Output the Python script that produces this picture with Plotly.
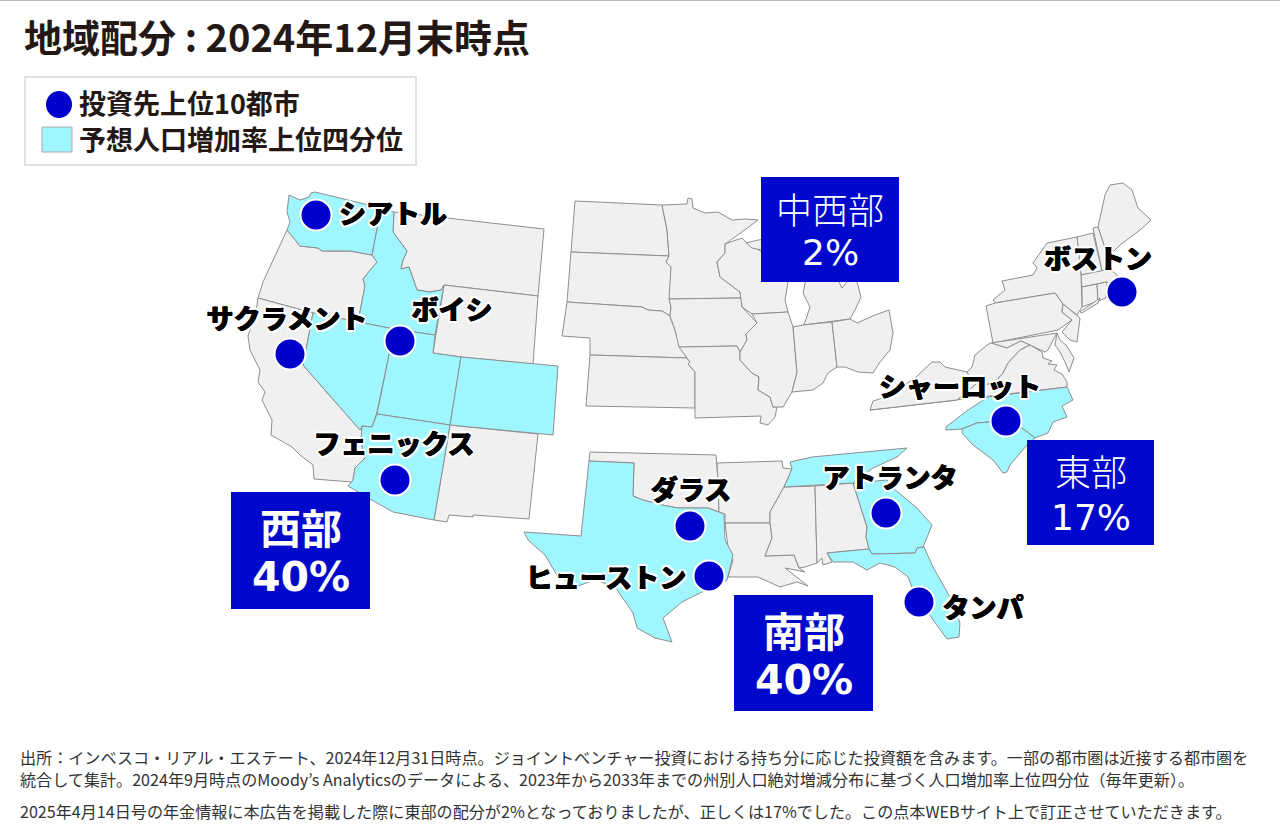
import plotly.graph_objects as go

# outlines, in page pixels (there is no topojson offline)
WA = [(289,195),(300,200),(309,197),(311,193),(315,192),(381,208),(372,255),(350,251),(322,251),(318,248),(300,246),(293,237),(287,230),(290,222),(287,212)]
OR = [(287,230),(293,237),(300,246),(318,248),(322,251),(350,251),(372,255),(377,262),(363,279),(365,286),(358,322),(313,313),(258,298),(263,282)]
CA = [(258,298),(313,313),(303,365),(360,430),(362,426),(361,442),(365,458),(355,468),(353,480),(352,482),(314,479),(313,465),(300,455),(292,447),(271,435),(272,420),(262,400),(265,392),(258,382),(260,370),(250,350),(248,336),(256,312)]
NV = [(313,313),(358,322),(394,329),(389,355),(377,412),(372,427),(362,426),(360,430),(303,365)]
ID = [(381,209),(394,212),(393,232),(407,251),(403,260),(401,269),(409,267),(417,290),(430,292),(441,290),(444,285),(435,335),(394,329),(358,322),(365,286),(363,279),(377,262),(372,255)]
MT = [(394,212),(447,218),(544,229),(538,296),(444,285),(441,290),(430,292),(417,290),(409,267),(401,269),(403,260),(407,251),(393,232)]
WY = [(444,285),(538,296),(533,364),(461,357),(433,353)]
UT = [(394,329),(435,335),(433,353),(461,357),(450,425),(377,414),(389,355)]
CO = [(461,357),(558,366),(553,435),(450,425)]
AZ = [(377,414),(450,425),(434,520),(393,512),(370,499),(348,486),(353,480),(355,468),(365,458),(361,442),(362,426),(372,427)]
NM = [(450,425),(538,434),(529,519),(473,515),(473,517),(449,515),(447,522),(434,520)]

ND = [(575,201),(662,205),(667,230),(669,256),(571,252)]
SD = [(571,252),(669,256),(666,262),(671,267),(671,307),(670,316),(662,311),(648,310),(642,307),(567,302)]
NE = [(567,302),(642,307),(648,310),(662,311),(670,316),(675,330),(680,347),(687,358),(590,355),(590,338),(562,336)]
KS = [(590,355),(687,358),(690,362),(688,364),(695,372),(695,408),(586,406)]
MN = [(662,205),(687,204),(688,198),(692,199),(693,208),(705,213),(718,212),(732,220),(745,219),(758,220),(742,232),(725,244),(725,253),(717,262),(720,277),(740,292),(741,298),(669,299),(671,267),(666,262),(669,256),(667,230)]
IA = [(669,299),(741,298),(742,307),(757,323),(746,334),(747,340),(740,352),(737,346),(679,347),(675,330),(670,316),(671,307)]
MO = [(679,347),(737,346),(740,352),(740,360),(752,373),(759,377),(758,390),(770,397),(773,407),(777,407),(775,417),(768,425),(760,423),(761,416),(695,418),(695,372),(688,364),(690,362),(687,358)]
WI = [(725,244),(742,238),(747,243),(762,252),(790,270),(787,287),(785,300),(788,312),(752,314),(742,307),(741,298),(740,292),(720,277),(717,262),(725,253)]
MI_UP = [(746,243),(758,240),(770,239),(770,252),(752,248)]
MI = [(808,270),(805,283),(803,293),(810,307),(805,322),(803,325),(850,319),(855,310),(861,297),(857,282),(850,270),(847,282),(842,288),(839,282),(835,270)]
IL = [(752,314),(788,312),(793,327),(797,372),(792,392),(787,401),(783,407),(773,407),(770,397),(758,390),(759,377),(752,373),(740,360),(740,352),(747,340),(746,334),(757,323)]
IN = [(793,327),(803,325),(832,322),(837,367),(828,373),(823,383),(813,390),(792,392),(797,372)]
OH = [(832,322),(850,319),(857,323),(875,315),(889,310),(893,333),(890,350),(880,362),(873,373),(858,372),(845,367),(837,367)]

ME = [(1098,227),(1105,195),(1110,185),(1123,183),(1132,190),(1138,208),(1151,220),(1140,230),(1120,245),(1108,257),(1105,248)]
NH = [(1093,228),(1098,227),(1105,248),(1108,257),(1110,269),(1102,271)]
VT = [(1077,237),(1093,233),(1102,271),(1081,275)]
MA = [(1081,275),(1102,271),(1110,269),(1117,275),(1122,290),(1107,282),(1082,287)]
CT = [(1082,287),(1097,284),(1098,301),(1082,307)]
RI = [(1097,284),(1107,282),(1106,298),(1098,301)]
LI = [(1080,312),(1100,298),(1098,303),(1082,313)]
NY = [(1047,243),(1077,237),(1081,275),(1082,307),(1077,315),(1063,304),(1055,293),(995,303),(993,300),(1005,290),(1002,281),(1033,275),(1037,268),(1033,263)]
PA = [(986,306),(995,303),(1055,293),(1063,304),(1062,312),(1072,320),(1058,330),(993,343)]
NJ = [(1063,304),(1077,315),(1080,318),(1077,342),(1070,340),(1062,332),(1072,320),(1062,312)]
MD = [(991,343),(1057,333),(1052,342),(1048,350),(1045,352),(1030,345),(1021,341),(1007,348)]
DELMARVA = [(1057,333),(1060,340),(1066,345),(1074,358),(1069,372),(1065,362),(1060,352),(1055,345)]
WV = [(987,345),(991,343),(1007,348),(1021,341),(1030,345),(1020,350),(1008,363),(1003,373),(995,382),(985,385),(977,383),(972,382),(967,372),(972,367),(975,355)]
VA = [(957,400),(977,383),(985,385),(995,382),(1003,373),(1008,363),(1020,350),(1030,345),(1042,352),(1043,358),(1052,361),(1048,364),(1057,365),(1054,370),(1062,374),(1067,382),(1067,387),(870,410)]
KY = [(870,410),(873,401),(883,398),(900,388),(915,378),(923,370),(932,362),(940,362),(945,367),(967,372),(972,382),(977,383),(957,400)]
NC = [(1067,387),(1073,400),(1062,406),(1067,417),(1053,422),(1048,433),(1035,438),(1022,428),(1010,420),(990,422),(977,423),(962,429),(946,430),(946,427),(968,410),(988,397)]
SC = [(962,429),(977,423),(990,422),(1010,420),(1022,428),(1035,438),(1027,445),(1010,465),(1007,472),(1003,473),(993,460),(973,445),(962,433)]

TX = [(589,461),(634,463),(633,496),(643,500),(662,505),(678,508),(708,508),(724,514),(725,540),(733,555),(730,568),(727,580),(702,592),(682,602),(663,618),(672,642),(655,638),(637,628),(633,613),(615,587),(595,580),(578,586),(558,577),(545,555),(528,540),(524,532),(581,536)]
OK = [(590,452),(716,455),(718,480),(719,512),(708,508),(678,508),(662,505),(643,500),(633,496),(634,463),(589,461)]
AR = [(717,463),(782,461),(783,468),(792,469),(784,487),(770,512),(770,523),(725,523),(725,514),(719,512),(718,480)]
LA = [(725,523),(770,523),(772,538),(765,556),(794,555),(799,568),(805,572),(785,568),(808,586),(797,582),(780,587),(758,577),(728,577),(733,560),(728,547)]
MS = [(784,487),(815,486),(817,563),(805,567),(799,568),(794,555),(765,556),(772,538),(770,523),(770,512)]
AL = [(815,486),(853,483),(867,527),(866,537),(869,549),(827,553),(832,562),(823,565),(822,558),(817,563)]
TN = [(790,462),(812,457),(907,448),(897,457),(873,468),(853,483),(784,487),(792,469)]
GA = [(853,483),(887,480),(893,488),(917,508),(932,525),(923,547),(917,548),(915,553),(872,554),(869,549),(866,537),(867,527)]
FL = [(827,553),(869,549),(872,554),(915,553),(917,548),(924,547),(933,567),(950,597),(960,623),(959,637),(947,639),(933,620),(912,587),(908,577),(895,567),(880,563),(867,570),(853,562),(833,562)]

gray_states = [OR, CA, MT, WY, NM, ND, SD, NE, KS, MN, IA, MO, WI, MI_UP, MI, IL, IN, OH,
               ME, NH, VT, MA, CT, RI, LI, NY, PA, NJ, MD, DELMARVA, WV, VA, KY, OK, AR, LA, MS, AL]
growth_states = [WA, ID, NV, UT, CO, AZ, NC, SC, TX, TN, GA, FL]

city_names = ["シアトル", "ボイシ", "サクラメント", "フェニックス", "ダラス", "ヒューストン", "アトランタ", "タンパ", "シャーロット", "ボストン"]
city_x = [316, 400, 290, 395, 690, 709, 886, 919, 1006, 1122]
city_y = [215, 341, 354, 480, 526, 576, 513, 602, 421, 292]
label_x = [393, 452, 287, 394, 691, 606, 890, 983, 960, 1098]
label_y = [217, 313, 322, 447, 493, 581, 481, 611, 390, 262]

region_names = ["西部", "中西部", "東部", "南部"]
region_shares = ["40%", "2%", "17%", "40%"]
region_left = [231, 761, 1027, 734]
region_right = [370, 899, 1154, 873]
region_top = [492, 177, 440, 595]
region_bottom = [609, 282, 545, 711]
name_y = [526, 208, 470, 629]
share_y = [577, 252, 517, 680]
region_weight = [700, 300, 300, 700]
share_weight = [700, 400, 400, 700]
region_size = [41, 36, 36, 41]

title = "地域配分 : 2024年12月末時点"
legend_labels = ["投資先上位10都市", "予想人口増加率上位四分位"]
legend_y = [102, 138]
footnotes = [
    "出所：インベスコ・リアル・エステート、2024年12月31日時点。ジョイントベンチャー投資における持ち分に応じた投資額を含みます。一部の都市圏は近接する都市圏を",
    "統合して集計。2024年9月時点のMoody’s Analyticsのデータによる、2023年から2033年までの州別人口絶対増減分布に基づく人口増加率上位四分位（毎年更新）。",
    "2025年4月14日号の年金情報に本広告を掲載した際に東部の配分が2%となっておりましたが、正しくは17%でした。この点本WEBサイト上で訂正させていただきます。",
]
footnote_y = [757, 779, 811]

FONT = "Noto Sans CJK JP"
WIDE_FONT = "DejaVu Sans, Noto Sans CJK JP"
INK = "#231815"
BLUE = "#0000cc"
CYAN = "#a0f6ff"
HALO = "0.5px 0 0 black,-0.5px 0 0 black," + ",".join(
    f"{dx}px {dy}px 1px white" for dx, dy in [(2,0),(-2,0),(0,2),(0,-2),(2,2),(-2,2),(2,-2),(-2,-2)])

fig = go.Figure()


def add_state(poly, color):
    xs = [p[0] for p in poly] + [poly[0][0]]
    ys = [p[1] for p in poly] + [poly[0][1]]
    fig.add_trace(go.Scatter(x=xs, y=ys, mode="lines", fill="toself", fillcolor=color,
                             line=dict(color="#8e8e8e", width=1), hoverinfo="skip", showlegend=False))


for s in gray_states:
    add_state(s, "#f0f0f0")
for s in growth_states:
    add_state(s, CYAN)

fig.add_trace(go.Scatter(x=city_x, y=city_y, mode="markers", hovertext=city_names, hoverinfo="text",
                         marker=dict(size=31, color=BLUE, line=dict(color="white", width=2)), showlegend=False))
fig.add_trace(go.Scatter(x=label_x, y=label_y, mode="text", text=city_names, hoverinfo="skip", showlegend=False,
                         textfont=dict(family=FONT, size=27, color="black", weight=900, shadow=HALO)))

# top rule and the hand made legend
fig.add_shape(type="line", x0=0, x1=1280, y0=0.5, y1=0.5, line=dict(color="#bbbbbb", width=1))
fig.add_shape(type="rect", x0=25, x1=416, y0=77, y1=165, line=dict(color="#e2e2e2", width=2), fillcolor="white")
fig.add_shape(type="circle", x0=46, x1=72, y0=91, y1=118, line=dict(width=0), fillcolor=BLUE)
fig.add_shape(type="rect", x0=42, x1=72, y0=127, y1=152, line=dict(color="#aaaaaa", width=1), fillcolor=CYAN)
for lab, y in zip(legend_labels, legend_y):
    fig.add_annotation(x=77, y=y, text=lab, xanchor="left", showarrow=False,
                       font=dict(family=FONT, size=27, color=INK, weight=700))

fig.add_annotation(x=22, y=35, text=title, xanchor="left", showarrow=False,
                   font=dict(family=FONT, size=38, color=INK, weight=700))

for i, name in enumerate(region_names):
    fig.add_shape(type="rect", x0=region_left[i], x1=region_right[i], y0=region_top[i], y1=region_bottom[i],
                  line=dict(width=0), fillcolor="#0008cc")
    mid = (region_left[i] + region_right[i]) / 2
    fig.add_annotation(x=mid, y=name_y[i], text=name, showarrow=False,
                       font=dict(family=FONT, size=region_size[i], color="white", weight=region_weight[i]))
    fig.add_annotation(x=mid, y=share_y[i], text=region_shares[i], showarrow=False,
                       font=dict(family=WIDE_FONT, size=region_size[i], color="white", weight=share_weight[i]))

for line, y in zip(footnotes, footnote_y):
    fig.add_annotation(x=18, y=y, text=line, xanchor="left", showarrow=False,
                       font=dict(family=FONT, size=16.1, color="#333333"))

fig.update_layout(
    width=1280, height=840, margin=dict(l=0, r=0, t=0, b=0),
    paper_bgcolor="white", plot_bgcolor="white", showlegend=False,
    xaxis=dict(range=[0, 1280], visible=False, fixedrange=True),
    yaxis=dict(range=[840, 0], visible=False, fixedrange=True),
)

fig.write_html("out.html", config=dict(displayModeBar=False),
               post_script="document.body.style.margin='0';")
